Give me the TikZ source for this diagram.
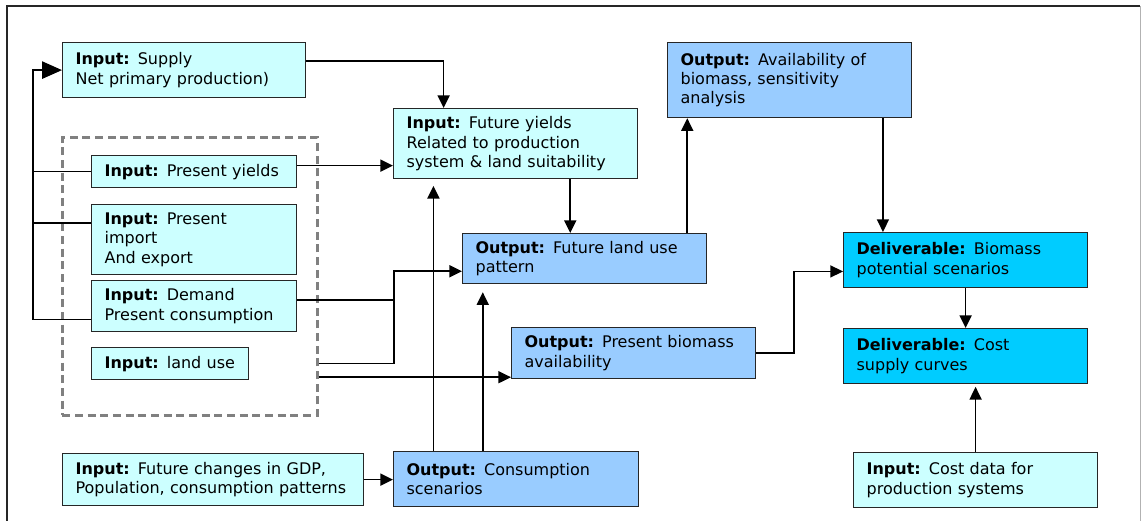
\documentclass[tikz,border=0pt]{standalone}
\usepackage{fontspec}
\setmainfont{DejaVu Sans}
\usetikzlibrary{arrows.meta,positioning,calc}
\definecolor{inpc}{HTML}{CCFFFF}
\definecolor{outc}{HTML}{99CCFF}
\definecolor{delc}{HTML}{00CCFF}
\definecolor{greyc}{HTML}{808080}

\begin{document}
\begin{tikzpicture}[x=0.75pt,y=-0.75pt,
      bx/.style 2 args={draw=black!85,line width=0.9pt,anchor=north west,align=left,inner xsep=9.75pt,
        minimum width=#1*0.75pt,minimum height=#2*0.75pt,text width=#1*0.75pt-19.5pt,
        font=\fontsize{12}{14.6}\selectfont},
      inp/.style={fill=inpc},
      outp/.style={fill=outc},
      deliv/.style={fill=delc},
      grp/.style={draw=greyc,line width=2pt,dash pattern=on 6pt off 3.5pt,anchor=north west,
        minimum width=255*0.75pt,minimum height=278*0.75pt},
      arr/.style={line width=1.3pt,-{Triangle[length=9.5pt,width=9pt]}},
      bigarr/.style={line width=1.3pt,-{Triangle[length=15pt,width=13pt]}},
      link/.style={line width=1.3pt},
    ]
    \useasboundingbox (0,0) rectangle (1142,521);
    \draw[line width=0.9pt,black!85] (7,530) -- (7,6) -- (1140,6);
    \draw[black!30] (1140,6) -- (1140,530);

    \node[bx={243}{55},inp] (supply) at (62,42) {\textbf{Input:} Supply\\Net primary production)};
    \node[grp] (grp) at (61,136) {};
    \node[bx={205}{32},inp] (pyield) at (91,155) {\textbf{Input:} Present yields};
    \node[bx={205}{70},inp] (pimport) at (91,204) {\textbf{Input:} Present\\import\\And export};
    \node[bx={205}{51},inp] (demand) at (91,280) {\textbf{Input:} Demand\\Present consumption};
    \node[bx={157}{32},inp] (landuse) at (91,347) {\textbf{Input:} land use};
    \node[bx={301}{52},inp] (fchange) at (62,453) {\textbf{Input:} Future changes in GDP,\\Population, consumption patterns};
    \node[bx={244}{70},inp] (fyield) at (393,108) {\textbf{Input:} Future yields\\Related to production\\system \& land suitability};
    \node[bx={244}{50},outp] (fland) at (462,233) {\textbf{Output:} Future land use\\pattern};
    \node[bx={244}{75},outp] (avail) at (667,42) {\textbf{Output:} Availability of\\biomass, sensitivity\\analysis};
    \node[bx={244}{51},outp] (pbio) at (511,327) {\textbf{Output:} Present biomass\\availability};
    \node[bx={245}{55},outp] (cons) at (393,451) {\textbf{Output:} Consumption\\scenarios};
    \node[bx={244}{55},deliv] (bpot) at (843,232) {\textbf{Deliverable:} Biomass\\potential scenarios};
    \node[bx={244}{55},deliv] (csupply) at (843,328) {\textbf{Deliverable:} Cost\\supply curves};
    \node[bx={244}{55},inp] (cdata) at (853,452) {\textbf{Input:} Cost data for\\production systems};

    \coordinate (bus) at (33,0);
    \coordinate (jn) at (394,0);
    \coordinate (pyout) at ([yshift=4.5pt]pyield.east);
    \coordinate (piout) at ([yshift=12.5pt]pimport.west);
    \coordinate (dmout) at ([yshift=-10pt]demand.west);
    \coordinate (dmright) at ([yshift=4.5pt]demand.east);
    \coordinate (spout) at ([yshift=7pt]supply.east);
    \coordinate (fyin) at ([xshift=-54pt]fyield.north);
    \coordinate (fyout) at ([xshift=41pt]fyield.south);
    \coordinate (flin) at ([yshift=-9.5pt]fland.west);
    \coordinate (flout) at ([xshift=77pt]fland.north);
    \coordinate (pbin) at ([yshift=1.5pt]pbio.south west);
    \coordinate (avout) at ([xshift=70pt]avail.south);
    \coordinate (bpin) at ([yshift=-8.5pt]bpot.west);
    \coordinate (cu1) at ([xshift=-62pt]cons.north);
    \coordinate (cu2) at ([xshift=-25pt]cons.north);

    \draw[bigarr] (dmout) -| (bus |- supply.west) -- (supply.west);
    \draw[link] (pyield.west) -- (pyield.west -| bus);
    \draw[link] (piout) -- (piout -| bus);
    \draw[arr] (spout) -| (fyin);
    \draw[arr] (pyout) -- (pyout -| fyield.west);
    \draw[arr] (fyout) -- (fyout |- fland.north);
    \draw[arr] (flout) -- (flout |- avail.south);
    \draw[arr] (dmright) -| (flin -| jn) -- (flin);
    \draw[link] (grp.east |- landuse.east) -| (dmright -| jn);
    \draw[arr] (grp.east |- pbin) -- (pbin);
    \draw[arr] (pbio.east) -- ++(28.5pt,0) |- (bpin);
    \draw[arr] (avout) -- (avout |- bpot.north);
    \draw[arr] (bpot.south) -- (csupply.north);
    \draw[arr,shorten >=2pt] (cdata.north) -- (cdata.north |- csupply.south);
    \draw[arr] (fchange.east) -- (fchange.east -| cons.west);
    \draw[arr,shorten >=5pt] (cu1) -- (cu1 |- fyield.south);
    \draw[arr,shorten >=6pt] (cu2) -- (cu2 |- fland.south);
  \end{tikzpicture}
\end{document}
